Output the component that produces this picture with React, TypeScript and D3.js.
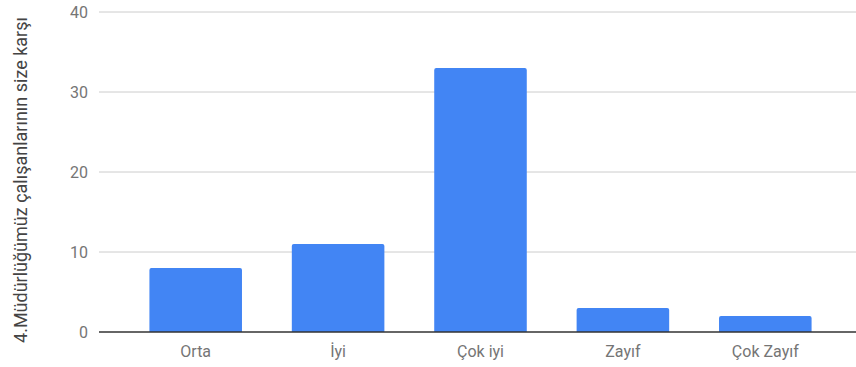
import React from "react";
import * as d3 from "d3";

const categories = ["Orta", "İyi", "Çok iyi", "Zayıf", "Çok Zayıf"];
const values = [8, 11, 33, 3, 2];
const yTicks = [0, 10, 20, 30, 40];
const yTitle = "4.Müdürlüğümüz çalışanlarının size karşı";

const W = 856;
const H = 367;

export default function App() {
  const x = d3.scaleBand<string>().domain(categories).range([124.5, 836.5]).paddingInner(0.35).paddingOuter(0.175);
  const y = d3.scaleLinear().domain([0, 40]).range([332, 12]);
  const r = 2;
  return (
    <svg width={W} height={H} style={{ position: "absolute", left: 0, top: 0, fontFamily: "Roboto, sans-serif" }}>
      {yTicks.map((t) => (
        <g key={t}>
          {t !== 0 && <line x1={99} x2={856} y1={y(t)} y2={y(t)} stroke="#cccccc" strokeWidth={1} />}
          <text x={88} y={y(t)} dy="0.35em" textAnchor="end" fontSize={16} fill="#757575">{t}</text>
        </g>
      ))}
      {categories.map((c, i) => {
        const x0 = x(c)!;
        const w = x.bandwidth();
        const y0 = y(values[i]);
        const yb = y(0);
        const d = `M${x0},${yb} L${x0},${y0 + r} Q${x0},${y0} ${x0 + r},${y0} L${x0 + w - r},${y0} Q${x0 + w},${y0} ${x0 + w},${y0 + r} L${x0 + w},${yb} Z`;
        return <path key={c} d={d} fill="#4285f4" />;
      })}
      <line x1={99} x2={856} y1={y(0)} y2={y(0)} stroke="#333333" strokeWidth={1.5} />
      {categories.map((c) => (
        <text key={c} x={x(c)! + x.bandwidth() / 2} y={357} textAnchor="middle" fontSize={16} fill="#757575">{c}</text>
      ))}
      <text transform={`translate(27, 180) rotate(-90)`} textAnchor="middle" fontSize={18} fill="#444444">{yTitle}</text>
    </svg>
  );
}
